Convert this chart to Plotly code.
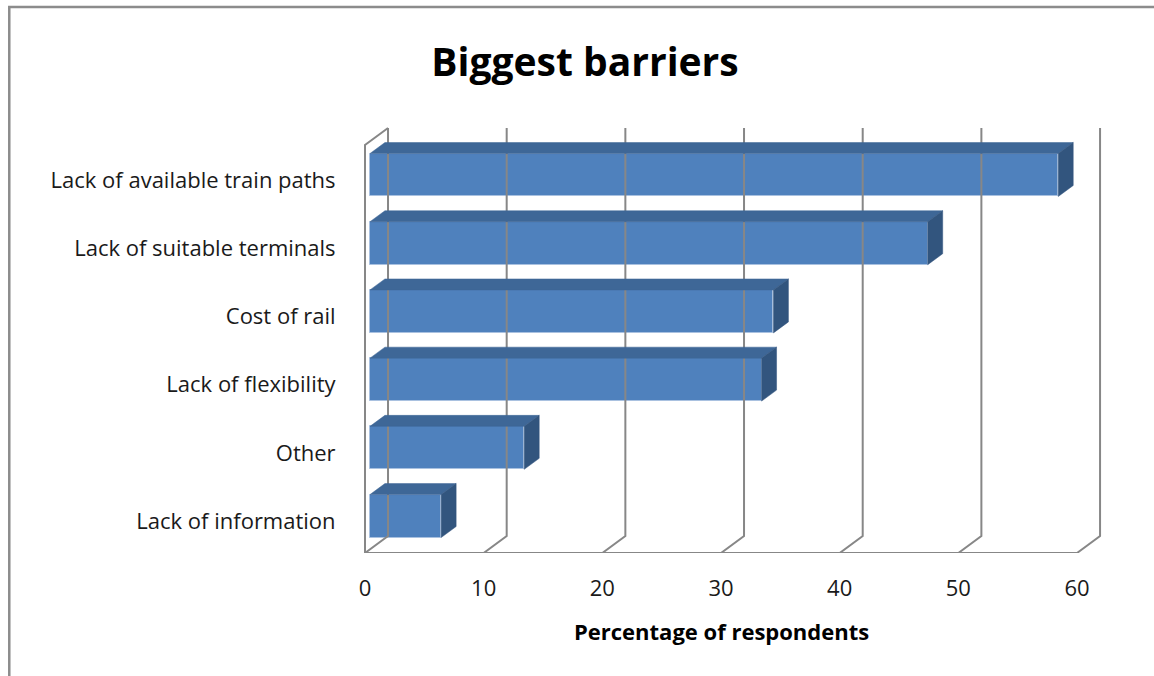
import numpy as np
import plotly.graph_objects as go

# Survey results: share of respondents naming each barrier
categories = [
    "Lack of information",
    "Other",
    "Lack of flexibility",
    "Cost of rail",
    "Lack of suitable terminals",
    "Lack of available train paths",
]
values = [6, 13, 33, 34, 47, 58]
x_ticks = [0, 10, 20, 30, 40, 50, 60]

# --- pseudo-3D geometry (in axis units) ---
FLOOR_Y = -0.469          # front edge of floor
WALL_TOP = 5.513          # top of left wall at the front
WALL_DX, WALL_DY = 1.94, 0.249    # depth of the back wall
BAR_DX0, BAR_DY0 = 0.42, 0.073    # bar front face offset into the depth
BAR_DX, BAR_DY = 1.26, 0.161      # bar depth
BAR_H = 0.63                      # bar front face height

FRONT = "#4F81BD"
TOP = "#3E6797"
SIDE = "#32557E"
GRID = "#878787"
FONT = "Open Sans"

fig = go.Figure()

# back-wall gridlines, floor diagonals and floor front edge
gx, gy = [], []
for t in x_ticks:
    gx += [t, t + WALL_DX, t + WALL_DX, None]
    gy += [FLOOR_Y, FLOOR_Y + WALL_DY, WALL_TOP + WALL_DY, None]
gx += [x_ticks[0], x_ticks[-1], None]
gy += [FLOOR_Y, FLOOR_Y, None]
# left wall: front edge and top diagonal
gx += [0, 0, WALL_DX]
gy += [FLOOR_Y, WALL_TOP, WALL_TOP + WALL_DY]
fig.add_trace(go.Scatter(x=gx, y=gy, mode="lines",
                         line=dict(color=GRID, width=2),
                         hoverinfo="skip", showlegend=False))

idx = np.arange(len(categories))
vals = np.array(values, dtype=float)
yc = idx + BAR_DY0
ytop = yc + BAR_H / 2
ybot = yc - BAR_H / 2
x0 = np.full_like(vals, BAR_DX0)
x1 = x0 + vals

# top faces
tx, ty = [], []
for a, b, yt in zip(x0, x1, ytop):
    tx += [a, b, b + BAR_DX, a + BAR_DX, a, None]
    ty += [yt, yt, yt + BAR_DY, yt + BAR_DY, yt, None]
fig.add_trace(go.Scatter(x=tx, y=ty, mode="lines", fill="toself",
                         fillcolor=TOP, line=dict(color=TOP, width=0.5),
                         hoverinfo="skip", showlegend=False))

# right side faces
sx, sy = [], []
for b, yt, yb in zip(x1, ytop, ybot):
    sx += [b, b + BAR_DX, b + BAR_DX, b, b, None]
    sy += [yt, yt + BAR_DY, yb + BAR_DY, yb, yt, None]
fig.add_trace(go.Scatter(x=sx, y=sy, mode="lines", fill="toself",
                         fillcolor=SIDE, line=dict(color=SIDE, width=0.5),
                         hoverinfo="skip", showlegend=False))

# front faces
fig.add_trace(go.Bar(
    x=vals, y=yc, base=x0, orientation="h", width=BAR_H,
    marker=dict(color=FRONT, line=dict(color="#A9C1E0", width=1)),
    hovertext=categories, showlegend=False,
))

fig.update_layout(
    width=1154, height=676,
    margin=dict(l=345, r=39, t=110, b=123),
    paper_bgcolor="white", plot_bgcolor="white",
    font=dict(family=FONT, size=22, color="#1a1a1a"),
    title=dict(text="<b>Biggest barriers</b>", font=dict(family=FONT, size=39, color="#000"),
               xref="container", x=585 / 1154, xanchor="center",
               yref="container", y=1 - 62 / 676, yanchor="middle"),
    xaxis=dict(range=[-1.685, 63.2], tickvals=x_ticks, showgrid=False,
               zeroline=False, showline=False, ticks="outside", ticklen=16,
               tickcolor="rgba(0,0,0,0)", tickfont=dict(size=22)),
    yaxis=dict(range=[FLOOR_Y, 6.026], tickvals=list(idx), ticktext=categories,
               showgrid=False, zeroline=False, showline=False,
               ticks="outside", ticklen=4, tickcolor="rgba(0,0,0,0)",
               tickfont=dict(size=22)),
    bargap=0,
    shapes=[dict(type="rect", xref="paper", yref="paper",
                 x0=-0.436, y0=-0.35, x1=1.12, y1=1.2325,
                 line=dict(color="#8c8c8c", width=2.5), layer="below")],
    annotations=[dict(text="<b>Percentage of respondents</b>", xref="x", x=30,
                      yref="paper", y=(553 - 631) / 443, yanchor="middle",
                      showarrow=False, font=dict(family=FONT, size=22, color="#000"))],
)

fig.write_html("out.html")
